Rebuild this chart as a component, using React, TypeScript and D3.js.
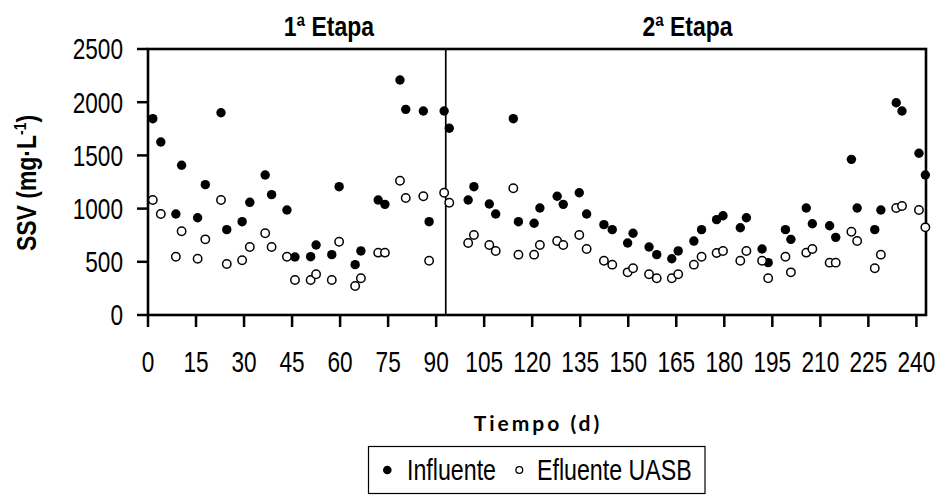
import React from "react";
import * as d3 from "d3";

// Sampling day and SSV (mg/L) for the influent and the UASB effluent
const days = [
  1.5, 4.0, 8.7, 10.5, 15.5, 17.9, 22.8, 24.6, 29.4, 31.8, 36.6, 38.6, 43.4, 45.9,
  50.8, 52.5, 57.4, 59.7, 64.7, 66.5, 71.9, 74.0, 78.7, 80.5, 86.0, 87.8, 92.5, 94.1,
  100.0, 101.8, 106.6, 108.6, 114.1, 115.7, 120.6, 122.4, 127.8, 129.7, 134.7, 137.0,
  142.4, 145.0, 149.8, 151.5, 156.5, 158.9, 163.6, 165.6, 170.5, 172.9, 177.6, 179.6,
  185.0, 186.9, 191.8, 193.7, 199.1, 200.8, 205.6, 207.5, 212.9, 214.8, 219.7, 221.5,
  227.0, 228.9, 233.7, 235.5, 240.8, 242.8,
];

const influente = [
  1845, 1626, 949, 1407, 914, 1225, 1901, 802, 877, 1059, 1316, 1131, 987, 545,
  548, 658, 567, 1206, 473, 602, 1081, 1040, 2209, 1933, 1917, 877, 1917, 1755,
  1081, 1206, 1043, 949, 1845, 877, 862, 1006, 1116, 1040, 1149, 949,
  849, 802, 677, 768, 639, 567, 529, 602, 695, 802, 896, 933,
  820, 914, 620, 492, 802, 711, 1006, 858, 839, 730, 1463, 1006,
  802, 987, 1995, 1917, 1520, 1316,
];

const efluente = [
  1081, 949, 548, 787, 529, 711, 1081, 479, 514, 639, 768, 639, 548, 329,
  329, 383, 329, 689, 273, 345, 586, 586, 1262, 1100, 1116, 510, 1149, 1055,
  677, 752, 658, 602, 1191, 567, 567, 658, 695, 658, 752, 620,
  510, 473, 401, 439, 383, 345, 345, 383, 473, 548, 583, 602,
  510, 602, 510, 345, 548, 401, 586, 620, 492, 492, 783, 695,
  439, 567, 1006, 1024, 987, 824,
];

const xTicks = [0, 15, 30, 45, 60, 75, 90, 105, 120, 135, 150, 165, 180, 195, 210, 225, 240];
const yTicks = [0, 500, 1000, 1500, 2000, 2500];

const stageBoundary = 93;
const stages = [
  { label: "1ª Etapa", center: 56.5 },
  { label: "2ª Etapa", center: 168.5 },
];

const SANS = "'Liberation Sans', Arial, sans-serif";

// Condensed text: Liberation Sans squeezed horizontally around its anchor point
function NText({
  x,
  y,
  anchor = "start",
  size = 29,
  squeeze = 0.78,
  bold = false,
  dy,
  children,
}: {
  x: number;
  y: number;
  anchor?: "start" | "middle" | "end";
  size?: number;
  squeeze?: number;
  bold?: boolean;
  dy?: string;
  children: React.ReactNode;
}) {
  return (
    <text
      transform={`translate(${x},${y}) scale(${squeeze},1)`}
      textAnchor={anchor}
      dy={dy}
      fontFamily={SANS}
      fontWeight={bold ? "bold" : "normal"}
      fontSize={size}
      fill="#000"
    >
      {children}
    </text>
  );
}

export default function App() {
  const left = 148;
  const right = 926;
  const top = 49;
  const bottom = 315;

  const x = d3.scaleLinear().domain([0, 243]).range([left, right]);
  const y = d3.scaleLinear().domain([0, 2500]).range([bottom, top]);

  const inflPts = days.map((d, i) => ({ d, v: influente[i] }));
  const eflPts = days.map((d, i) => ({ d, v: efluente[i] }));

  return (
    <svg
      width={942}
      height={495}
      style={{ position: "absolute", left: 0, top: 0, background: "#fff" }}
    >
      <rect x={0} y={0} width={942} height={495} fill="#fff" />

      {/* stage titles */}
      {stages.map((s) => (
        <NText key={s.label} x={x(s.center)} y={36} anchor="middle" bold size={28} squeeze={0.82}>
          {s.label}
        </NText>
      ))}

      {/* stage separator */}
      <line
        x1={x(stageBoundary)}
        x2={x(stageBoundary)}
        y1={top}
        y2={bottom}
        stroke="#000"
        strokeWidth={1.7}
      />

      {/* y ticks and labels */}
      {yTicks.map((t) => (
        <g key={t}>
          <line x1={left - 11} x2={left} y1={y(t)} y2={y(t)} stroke="#000" strokeWidth={2.5} />
          <NText x={123} y={y(t)} dy="0.36em" anchor="end">
            {t}
          </NText>
        </g>
      ))}

      {/* x ticks and labels */}
      {xTicks.map((t) => (
        <g key={t}>
          <line x1={x(t)} x2={x(t)} y1={bottom} y2={bottom + 12} stroke="#000" strokeWidth={2.5} />
          <NText x={x(t)} y={372} anchor="middle">
            {t}
          </NText>
        </g>
      ))}

      {/* plot frame */}
      <rect
        x={left}
        y={top}
        width={right - left}
        height={bottom - top}
        fill="none"
        stroke="#000"
        strokeWidth={2.6}
      />

      {/* influent */}
      {inflPts.map((p, i) => (
        <circle key={"i" + i} cx={x(p.d)} cy={y(p.v)} r={4.7} fill="#000" />
      ))}

      {/* UASB effluent */}
      {eflPts.map((p, i) => (
        <circle
          key={"e" + i}
          cx={x(p.d)}
          cy={y(p.v)}
          r={4.2}
          fill="#fff"
          stroke="#000"
          strokeWidth={1.5}
        />
      ))}

      {/* y axis title */}
      <text
        transform={`translate(36, 183) rotate(-90) scale(0.82,1)`}
        textAnchor="middle"
        fontFamily={SANS}
        fontWeight="bold"
        fontSize={28}
        fill="#000"
      >
        SSV (mg·L
        <tspan dy={-10} fontSize={17}>-1</tspan>
        <tspan dy={10}>)</tspan>
      </text>

      {/* x axis title */}
      <text
        x={538}
        y={431}
        textAnchor="middle"
        fontFamily="Lato, 'Open Sans', sans-serif"
        fontWeight="bold"
        fontSize={21}
        letterSpacing={3}
        fill="#000"
      >
        Tiempo (d)
      </text>

      {/* legend */}
      <rect x={368.5} y={446.5} width={336.5} height={47} fill="#fff" stroke="#000" strokeWidth={1.2} />
      <circle cx={387.3} cy={470} r={4.3} fill="#000" />
      <NText x={407} y={480} squeeze={0.8}>
        Influente
      </NText>
      <circle cx={519.3} cy={470} r={3.4} fill="#fff" stroke="#000" strokeWidth={1.3} />
      <NText x={537} y={480} squeeze={0.8}>
        Efluente UASB
      </NText>
    </svg>
  );
}
